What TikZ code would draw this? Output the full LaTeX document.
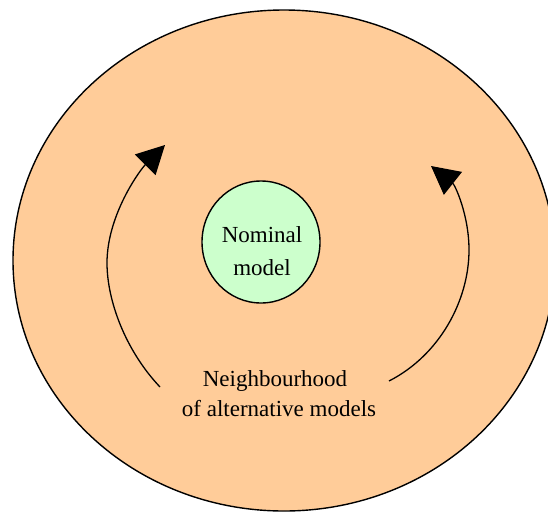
\documentclass[tikz,border=0pt]{standalone}
\usepackage{fontspec}
\setmainfont{Liberation Serif}
\usetikzlibrary{arrows.meta,shapes.geometric}
\definecolor{peach}{RGB}{255,204,153}
\definecolor{palegreen}{RGB}{204,255,204}
\tikzset{
  region/.style={ellipse, draw=black, line width=1.4pt, inner sep=0pt},
  lbl/.style={font=\fontsize{23}{28}\selectfont, anchor=base, inner sep=0pt},
  curvearrow/.style={line width=1.3pt, -{Triangle[length=28pt,width=29pt]}}
}
\begin{document}
\begin{tikzpicture}[x=1pt,y=-1pt]
\useasboundingbox (0,0) rectangle (548,512);
\begin{scope}
\clip (0,0) rectangle (548,512);
\node[region, fill=peach, minimum width=542pt, minimum height=501pt] (outer) at (284,260.5) {};
\end{scope}
\node[region, fill=palegreen, minimum width=118pt, minimum height=122pt] (inner) at (261,242) {};
\node[lbl] (nom1) at (262,242) {Nominal};
\node[lbl] (nom2) at (262,275) {model};
\node[lbl] (nb1) at (275,386) {Neighbourhood};
\node[lbl] (nb2) at (279,416) {of alternative models};
\coordinate (ltail) at (160,387);
\coordinate (lmid) at (107,263);
\coordinate (ltip) at (165,145);
\coordinate (rtail) at (389,381);
\coordinate (rmid) at (469,250);
\coordinate (rtip) at (431,166);
\draw[curvearrow] (ltail) .. controls (125,350) and (107,300) .. (lmid)
  .. controls (107,215) and (140,170) .. (ltip);
\draw[curvearrow] (rtail) .. controls (440,355) and (469,300) .. (rmid)
  .. controls (469,215) and (455,185) .. (rtip);
\end{tikzpicture}
\end{document}
